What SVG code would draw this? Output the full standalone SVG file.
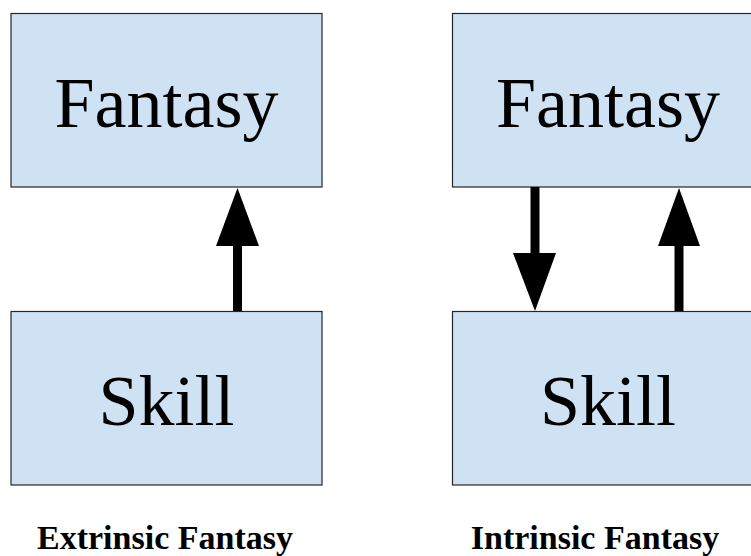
<svg xmlns="http://www.w3.org/2000/svg" width="751" height="556" viewBox="0 0 751 556">
  <style>
    .box { fill: #cfe2f3; stroke: #262626; stroke-width: 1.2; }
    .big { font-family: "Liberation Serif", "Times New Roman", serif; font-size: 72px; fill: #000; text-anchor: middle; }
    .cap { font-family: "Liberation Serif", "Times New Roman", serif; font-size: 34px; font-weight: bold; fill: #000; text-anchor: middle; }
    .shaft { stroke: #000; stroke-width: 9; fill: none; }
    .head { fill: #000; }
  </style>
  <rect width="751" height="556" fill="#ffffff"/>

  <!-- left pair: extrinsic -->
  <g id="fantasy-extrinsic">
    <rect class="box" x="11" y="13.5" width="311" height="173.5"/>
    <text class="big" x="166.5" y="127">Fantasy</text>
  </g>
  <g id="skill-extrinsic">
    <rect class="box" x="11" y="311.5" width="311" height="173.5"/>
    <text class="big" x="166.5" y="425">Skill</text>
  </g>
  <g id="label-extrinsic">
    <text class="cap" x="165" y="549">Extrinsic Fantasy</text>
  </g>

  <!-- right pair: intrinsic -->
  <g id="fantasy-intrinsic">
    <rect class="box" x="452.5" y="13.5" width="311" height="173.5"/>
    <text class="big" x="608" y="127">Fantasy</text>
  </g>
  <g id="skill-intrinsic">
    <rect class="box" x="452.5" y="311.5" width="311" height="173.5"/>
    <text class="big" x="608" y="425">Skill</text>
  </g>
  <g id="label-intrinsic">
    <text class="cap" x="595" y="549">Intrinsic Fantasy</text>
  </g>

  <!-- connectors -->
  <g id="connectors">
    <!-- skill to fantasy (left) -->
    <line class="shaft" x1="237.5" y1="311" x2="237.5" y2="244"/>
    <polygon class="head" points="237.5,188 216,246 259,246"/>
    <!-- fantasy to skill (right) -->
    <line class="shaft" x1="535" y1="187" x2="535" y2="255"/>
    <polygon class="head" points="513,253 556,253 535,311"/>
    <!-- skill to fantasy (right) -->
    <line class="shaft" x1="679" y1="311" x2="679" y2="244"/>
    <polygon class="head" points="679,188 658,246 700,246"/>
  </g>
</svg>
